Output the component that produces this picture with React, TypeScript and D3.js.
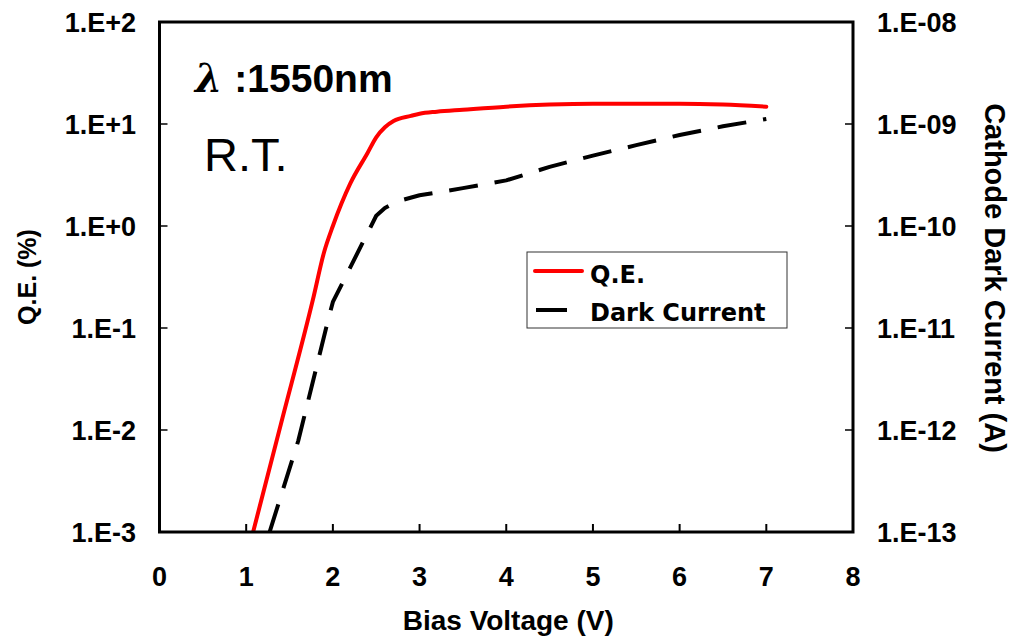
import React, { useEffect, useRef } from "react";
import * as d3 from "d3";

// bias voltage (V) and Q.E. (%)
const qeVoltage = [1.08, 1.4, 1.77, 1.9, 2.0, 2.2, 2.4, 2.5, 2.6, 2.7, 2.9, 3.0, 3.2, 3.5, 4.0, 4.5, 5.0, 5.5, 6.0, 6.5, 7.0];
const qeValue = [0.001, 0.0114, 0.19, 0.56, 1.0, 2.6, 5.2, 7.4, 9.3, 10.7, 12.0, 12.6, 13.2, 13.8, 14.8, 15.5, 15.8, 15.8, 15.8, 15.5, 14.8];

// bias voltage (V) and cathode dark current (A)
const darkVoltage = [1.27, 1.6, 1.94, 2.0, 2.5, 2.6, 2.75, 3.0, 3.5, 4.0, 4.5, 5.0, 5.5, 6.0, 6.5, 7.0];
const darkValue = [1e-13, 7.8e-13, 1.15e-11, 1.8e-11, 1.26e-10, 1.5e-10, 1.75e-10, 2.0e-10, 2.35e-10, 2.8e-10, 3.8e-10, 4.9e-10, 6.2e-10, 7.8e-10, 9.5e-10, 1.12e-9];

const xTicks = [0, 1, 2, 3, 4, 5, 6, 7, 8];
const leftTicks = [1e-3, 1e-2, 1e-1, 1e0, 1e1, 1e2];
const leftLabels = ["1.E-3", "1.E-2", "1.E-1", "1.E+0", "1.E+1", "1.E+2"];
const rightTicks = [1e-13, 1e-12, 1e-11, 1e-10, 1e-9, 1e-8];
const rightLabels = ["1.E-13", "1.E-12", "1.E-11", "1.E-10", "1.E-09", "1.E-08"];

const width = 1024;
const height = 636;
const font = "'Liberation Sans', Arial, sans-serif";

const App = () => {
  const svgRef = useRef<SVGSVGElement>(null);

  useEffect(() => {
    const svg = d3.select(svgRef.current);
    svg.selectAll("*").remove();

    const left = 159.5, right = 853, top = 22, bottom = 532;

    const x = d3.scaleLinear().domain([0, 8]).range([left, right]);
    const yL = d3.scaleLog().domain([1e-3, 1e2]).range([bottom, top]);
    const yR = d3.scaleLog().domain([1e-13, 1e-8]).range([bottom, top]);

    svg.append("defs").append("clipPath").attr("id", "plot")
      .append("rect").attr("x", left).attr("y", top).attr("width", right - left).attr("height", bottom - top);

    // curves
    const qe = qeVoltage.map((v, i) => [v, qeValue[i]] as [number, number]);
    const dark = darkVoltage.map((v, i) => [v, darkValue[i]] as [number, number]);

    const qeLine = d3.line<[number, number]>()
      .x((d) => x(d[0]))
      .y((d) => yL(d[1]))
      .curve(d3.curveMonotoneX);
    const darkLine = d3.line<[number, number]>()
      .x((d) => x(d[0]))
      .y((d) => yR(d[1]))
      .curve(d3.curveLinear);

    const g = svg.append("g").attr("clip-path", "url(#plot)");
    g.append("path").attr("d", darkLine(dark)).attr("fill", "none")
      .attr("stroke", "#000").attr("stroke-width", 4).attr("stroke-linejoin", "round")
      .attr("stroke-dasharray", "29,17");
    g.append("path").attr("d", qeLine(qe)).attr("fill", "none")
      .attr("stroke", "#ff0000").attr("stroke-width", 4).attr("stroke-linecap", "round");

    // frame
    svg.append("path")
      .attr("d", `M${left},${top}H${right}V${bottom}H${left}Z`)
      .attr("fill", "none").attr("stroke", "#000").attr("stroke-width", 3);

    // ticks (inward)
    svg.append("g").selectAll("line").data(xTicks.slice(1, -1)).join("line")
      .attr("x1", (d) => x(d)).attr("x2", (d) => x(d))
      .attr("y1", bottom).attr("y2", bottom - 8)
      .attr("stroke", "#000").attr("stroke-width", 2);
    svg.append("g").selectAll("line").data(leftTicks.slice(1, -1)).join("line")
      .attr("x1", left).attr("x2", left + 8)
      .attr("y1", (d) => yL(d)).attr("y2", (d) => yL(d))
      .attr("stroke", "#000").attr("stroke-width", 1.5);
    svg.append("g").selectAll("line").data(rightTicks.slice(1, -1)).join("line")
      .attr("x1", right).attr("x2", right - 8)
      .attr("y1", (d) => yR(d)).attr("y2", (d) => yR(d))
      .attr("stroke", "#000").attr("stroke-width", 1.5);

    // tick labels
    const labels = svg.append("g").attr("font-family", font).attr("font-weight", "bold").attr("font-size", 27).attr("fill", "#000");
    labels.selectAll(".xl").data(xTicks).join("text").attr("class", "xl")
      .attr("x", (d) => x(d)).attr("y", 586).attr("text-anchor", "middle").text((d) => d);
    labels.selectAll(".ll").data(leftTicks).join("text").attr("class", "ll")
      .attr("x", 136).attr("y", (d) => yL(d) + 10).attr("text-anchor", "end")
      .text((d, i) => leftLabels[i]);
    labels.selectAll(".rl").data(rightTicks).join("text").attr("class", "rl")
      .attr("x", 877).attr("y", (d) => yR(d) + 10).attr("text-anchor", "start")
      .text((d, i) => rightLabels[i]);

    // axis titles
    svg.append("text").attr("x", (left + right) / 2 + 2).attr("y", 630)
      .attr("text-anchor", "middle").attr("font-family", font).attr("font-weight", "bold").attr("font-size", 28)
      .text("Bias Voltage (V)");
    svg.append("text").attr("transform", "translate(36,277) rotate(-90)")
      .attr("text-anchor", "middle").attr("font-family", font).attr("font-weight", "bold").attr("font-size", 25)
      .text("Q.E. (%)");
    svg.append("text").attr("transform", "translate(985,278) rotate(90)")
      .attr("text-anchor", "middle").attr("font-family", font).attr("font-weight", "bold").attr("font-size", 29)
      .text("Cathode Dark Current (A)");

    // annotations
    const ann = svg.append("text").attr("x", 195).attr("y", 92).attr("font-family", font).attr("font-size", 39);
    ann.append("tspan").attr("font-family", "'DejaVu Serif', serif").attr("font-style", "italic").attr("font-weight", "bold").text("λ");
    ann.append("tspan").attr("dx", 12).attr("font-weight", "bold").text(":1550nm");
    svg.append("text").attr("x", 204).attr("y", 171).attr("font-family", font).attr("font-size", 47).text("R.T.");

    // legend
    const lg = svg.append("g");
    lg.append("rect").attr("x", 527).attr("y", 252).attr("width", 260).attr("height", 76)
      .attr("fill", "#fff").attr("stroke", "#333").attr("stroke-width", 1);
    lg.append("line").attr("x1", 535).attr("x2", 582).attr("y1", 271).attr("y2", 271)
      .attr("stroke", "#ff0000").attr("stroke-width", 4).attr("stroke-linecap", "round");
    lg.append("line").attr("x1", 536).attr("x2", 567).attr("y1", 310).attr("y2", 310)
      .attr("stroke", "#000").attr("stroke-width", 4);
    lg.append("text").attr("x", 590).attr("y", 283).attr("font-family", "'DejaVu Sans', sans-serif")
      .attr("font-weight", "bold").attr("font-size", 24).text("Q.E.");
    lg.append("text").attr("x", 590).attr("y", 321).attr("font-family", "'DejaVu Sans', sans-serif")
      .attr("font-weight", "bold").attr("font-size", 24).text("Dark Current");
  }, []);

  return (
    <svg width={width} height={height} ref={svgRef} style={{ position: "absolute", left: 0, top: 0, background: "#fff" }}></svg>
  );
};

export default App;
